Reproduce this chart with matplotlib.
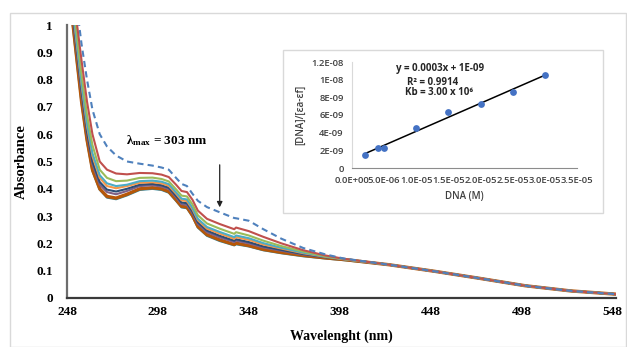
import numpy as np
import matplotlib
matplotlib.use("Agg")
import matplotlib.pyplot as plt
from matplotlib.patches import Rectangle

plt.rcParams["mathtext.fontset"] = "custom"
plt.rcParams["mathtext.rm"] = "Liberation Serif:bold"
plt.rcParams["mathtext.it"] = "Liberation Serif:bold"
plt.rcParams["mathtext.bf"] = "Liberation Serif:bold"

# ---- UV-Vis titration spectra -------------------------------------------
wavelength = [248, 250, 253, 256, 259, 262, 266, 270, 275, 281, 288, 295, 300,
              304, 308, 311, 314, 317, 320, 325, 332, 340, 341, 348, 356, 366,
              378, 390, 400]
tail_wavelength = [425, 450, 475, 500, 525, 550]
tail_abs = [0.122, 0.098, 0.072, 0.045, 0.026, 0.014]

abs_free = [1.50, 1.32, 1.09, 0.93, 0.80, 0.69, 0.60, 0.555, 0.522, 0.500, 0.492,
            0.485, 0.478, 0.470, 0.440, 0.418, 0.410, 0.382, 0.356, 0.333, 0.314,
            0.293, 0.292, 0.283, 0.252, 0.217, 0.183, 0.160, 0.145]
abs_red = [1.40, 1.20, 1.03, 0.87, 0.72, 0.60, 0.50, 0.470, 0.456, 0.453, 0.458,
           0.457, 0.452, 0.443, 0.415, 0.392, 0.388, 0.360, 0.320, 0.290, 0.271,
           0.252, 0.258, 0.245, 0.224, 0.200, 0.175, 0.156, 0.144]
abs_green = [1.37, 1.16, 0.99, 0.82, 0.67, 0.56, 0.47, 0.440, 0.428, 0.430, 0.440,
             0.441, 0.436, 0.427, 0.398, 0.375, 0.372, 0.343, 0.303, 0.273, 0.254,
             0.235, 0.241, 0.229, 0.210, 0.190, 0.170, 0.153, 0.143]
abs_cyan = [1.35, 1.14, 0.96, 0.79, 0.64, 0.53, 0.45, 0.420, 0.410, 0.415, 0.428,
            0.430, 0.426, 0.417, 0.387, 0.364, 0.361, 0.330, 0.290, 0.260, 0.242,
            0.223, 0.229, 0.219, 0.201, 0.184, 0.166, 0.152, 0.143]
abs_orange = [1.34, 1.13, 0.95, 0.78, 0.63, 0.52, 0.44, 0.410, 0.402, 0.410, 0.422,
              0.424, 0.420, 0.411, 0.382, 0.358, 0.355, 0.325, 0.285, 0.254, 0.236,
              0.217, 0.223, 0.213, 0.196, 0.181, 0.164, 0.151, 0.142]
abs_navy = [1.32, 1.11, 0.93, 0.76, 0.61, 0.50, 0.425, 0.397, 0.390, 0.400, 0.415,
            0.418, 0.413, 0.404, 0.374, 0.350, 0.347, 0.317, 0.277, 0.247, 0.228,
            0.210, 0.215, 0.205, 0.189, 0.176, 0.161, 0.150, 0.142]
abs_purple = [1.31, 1.10, 0.92, 0.745, 0.60, 0.49, 0.415, 0.388, 0.380, 0.392, 0.410,
              0.413, 0.408, 0.399, 0.369, 0.344, 0.341, 0.311, 0.271, 0.241, 0.222,
              0.205, 0.210, 0.200, 0.185, 0.173, 0.159, 0.149, 0.142]
abs_brown = [1.30, 1.08, 0.90, 0.72, 0.58, 0.47, 0.400, 0.372, 0.366, 0.380, 0.400,
             0.404, 0.400, 0.390, 0.360, 0.336, 0.333, 0.303, 0.262, 0.232, 0.213,
             0.196, 0.201, 0.192, 0.178, 0.167, 0.156, 0.147, 0.141]
abs_teal = [1.29, 1.07, 0.89, 0.715, 0.575, 0.465, 0.397, 0.368, 0.362, 0.376, 0.396,
            0.400, 0.396, 0.386, 0.356, 0.332, 0.329, 0.299, 0.258, 0.228, 0.209,
            0.193, 0.197, 0.189, 0.175, 0.164, 0.153, 0.145, 0.139]

x_ticks = [248, 298, 348, 398, 448, 498, 548]
y_ticks = [0, 0.1, 0.2, 0.3, 0.4, 0.5, 0.6, 0.7, 0.8, 0.9, 1]

# ---- Binding-constant plot --------------------------------------------------
dna_conc = [2.0e-6, 4.0e-6, 5.0e-6, 1.0e-5, 1.5e-5, 2.0e-5, 2.5e-5, 3.0e-5]
dna_ratio = [1.47e-9, 2.23e-9, 2.26e-9, 4.49e-9, 6.31e-9, 7.25e-9, 8.60e-9, 1.05e-8]
inset_x_ticks = [0, 5e-6, 1e-5, 1.5e-5, 2e-5, 2.5e-5, 3e-5, 3.5e-5]
inset_x_labels = ["0.0E+00", "5.0E-06", "1.0E-05", "1.5E-05", "2.0E-05",
                  "2.5E-05", "3.0E-05", "3.5E-05"]
inset_y_ticks = [0, 2e-9, 4e-9, 6e-9, 8e-9, 1e-8, 1.2e-8]
inset_y_labels = ["0", "2E-09", "4E-09", "6E-09", "8E-09", "1E-08", "1.2E-08"]

W, H = 627, 347
fig = plt.figure(figsize=(W / 100, H / 100), dpi=100)
fig.patch.set_facecolor("white")

# light frame around the whole chart area
fig.add_artist(Rectangle((10 / W, 0), (W - 11) / W, (H - 13) / H,
                         transform=fig.transFigure, fill=False,
                         edgecolor="#d9d9d9", linewidth=1.0))

ax = fig.add_axes([67 / W, (H - 298) / H, (616 - 67) / W, (298 - 25) / H])

serif = dict(family="Liberation Serif", weight="bold")

series = [
    (abs_teal, "#31859C", 1.6),
    (abs_brown, "#B65708", 2.4),
    (abs_purple, "#7F6084", 1.5),
    (abs_navy, "#2C4D75", 1.5),
    (abs_orange, "#F79646", 1.5),
    (abs_cyan, "#4BACC6", 1.5),
    (abs_green, "#9BBB59", 1.5),
    (abs_red, "#C0504D", 1.5),
]
for vals, col, lw in series:
    ax.plot(wavelength + tail_wavelength, vals + tail_abs, color=col, lw=lw,
            solid_joinstyle="round")
ax.plot(wavelength + tail_wavelength, abs_free + tail_abs, color="#4F81BD",
        lw=1.5, ls=(0, (3, 2)))

ax.set_xlim(248, 550)
ax.set_ylim(0, 1)
ax.set_xticks(x_ticks)
ax.set_yticks(y_ticks)
ax.set_xticklabels([str(t) for t in x_ticks], fontsize=9.5, **serif)
ax.set_yticklabels([f"{t:g}" for t in y_ticks], fontsize=9.5, **serif)
ax.tick_params(axis="x", length=0, pad=6)
ax.tick_params(axis="y", length=0, pad=10)
for s in ("top", "right"):
    ax.spines[s].set_visible(False)
ax.spines["left"].set_color("#6d6d6d")
ax.spines["left"].set_linewidth(1.6)
ax.spines["bottom"].set_color("#3a3a3a")
ax.spines["bottom"].set_linewidth(1.6)
ax.set_xlabel("Wavelenght (nm)", fontsize=10, labelpad=8, **serif)
ax.set_ylabel("Absorbance", fontsize=10.5, labelpad=6, **serif)

ax.text(303, 0.575, r"$\lambda_{\mathrm{max}}$ = 303 nm", fontsize=9.5,
        ha="center", va="center", **serif)
ax.annotate("", xy=(332, 0.322), xytext=(332, 0.498),
            arrowprops=dict(arrowstyle="-|>", color="#222222", lw=0.9,
                            mutation_scale=8))

# ---- inset panel ---------------------------------------------------------
fig.add_artist(Rectangle((283 / W, (H - 213) / H), (603 - 283) / W, (213 - 50) / H,
                         transform=fig.transFigure, facecolor="white",
                         edgecolor="#d9d9d9", linewidth=1.0, zorder=3))
ins = fig.add_axes([352 / W, (H - 168) / H, (577 - 352) / W, (168 - 62) / H],
                   zorder=4)
ins.patch.set_alpha(0)
sans = dict(family="Open Sans", weight="semibold")
ins.scatter(dna_conc, dna_ratio, s=24, color="#4472C4", zorder=3, linewidths=0)
coef = np.polyfit(dna_conc, dna_ratio, 1)
fit_x = np.array([min(dna_conc), max(dna_conc)])
ins.plot(fit_x, np.polyval(coef, fit_x), color="black", lw=1.1, zorder=2)
ins.set_xlim(0, 3.5e-5)
ins.set_ylim(0, 1.2e-8)
ins.set_xticks(inset_x_ticks)
ins.set_xticklabels(inset_x_labels, fontsize=6.8, color="#404040", **sans)
ins.set_yticks(inset_y_ticks)
ins.set_yticklabels(inset_y_labels, fontsize=6.8, color="#404040", **sans)
ins.tick_params(length=0, pad=6)
for s in ("top", "right"):
    ins.spines[s].set_visible(False)
ins.spines["left"].set_color("#d9d9d9")
ins.spines["bottom"].set_color("#8c8c8c")
ins.set_xlabel("DNA (M)", fontsize=7, color="#404040", labelpad=4, **sans)
ins.set_ylabel("[DNA]/[εa-εf]", fontsize=7, color="#404040", labelpad=4, **sans)

txt = dict(fontsize=7, color="#262626", ha="center", va="center",
           family="Open Sans", weight="bold", transform=ins.transAxes)
ins.text(0.39, 0.94, "y = 0.0003x + 1E-09", **txt)
ins.text(0.36, 0.81, "R² = 0.9914", **txt)
ins.text(0.385, 0.71, "Kb = 3.00 x 10⁶", **txt)

fig.savefig("out.png", dpi=100)
